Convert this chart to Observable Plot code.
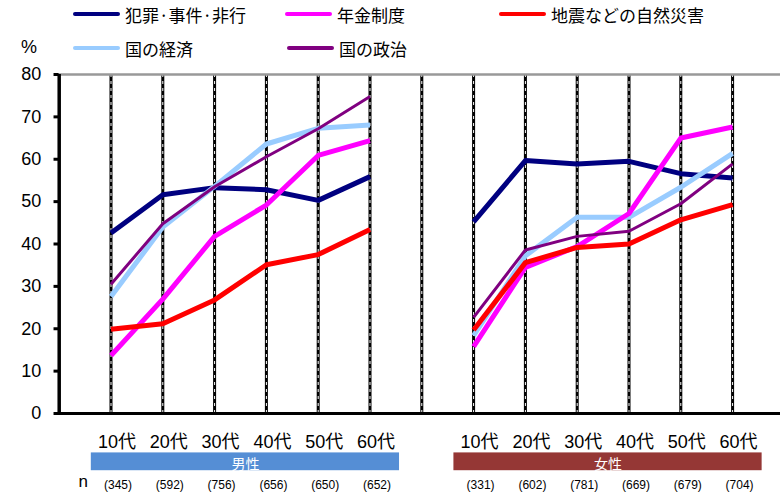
<!DOCTYPE html>
<html>
<head>
<meta charset="utf-8">
<script src="https://cdn.jsdelivr.net/npm/d3@7"></script>
<script src="https://cdn.jsdelivr.net/npm/@observablehq/plot@0.6"></script>
<style>
  html, body { margin: 0; padding: 0; background: #fff; }
  #wrap { position: relative; width: 780px; height: 494px; font-family: "Liberation Sans", Arial, "Noto Sans CJK JP", sans-serif; }
  .leg { position: absolute; display: flex; align-items: center; font-size: 17px; color: #000; white-space: nowrap; font-family: "Noto Sans CJK JP", "Liberation Sans", sans-serif; }
  .leg span.ln { display: inline-block; width: 47px; margin-right: 5px; border-radius: 2px; }
  #pct { position: absolute; left: 21px; top: 37px; font-size: 18px; font-family: "Liberation Sans", Arial, sans-serif; }
  svg { position: absolute; left: 0; top: 0; }
</style>
</head>
<body>
<div id="wrap"></div>
<script>
// ---- data ----
const categories = ["10代", "20代", "30代", "40代", "50代", "60代"];
const genders = ["男性", "女性"];
const nMale = [345, 592, 756, 656, 650, 652];
const nFemale = [331, 602, 781, 669, 679, 704];
const seriesNames = ["犯罪·事件·非行", "年金制度", "地震などの自然災害", "国の経済", "国の政治"];
const crimeMale = [42.6, 51.6, 53.3, 52.8, 50.3, 55.9];
const crimeFemale = [45.2, 59.7, 58.9, 59.5, 56.6, 55.6];
const pensionMale = [13.7, 27.0, 41.8, 49.2, 60.9, 64.4];
const pensionFemale = [15.8, 34.5, 39.4, 47.2, 65.0, 67.6];
const disasterMale = [19.9, 21.2, 26.8, 35.1, 37.5, 43.4];
const disasterFemale = [19.7, 35.6, 39.2, 40.0, 45.7, 49.3];
const economyMale = [27.6, 44.0, 53.6, 63.6, 67.3, 68.1];
const economyFemale = [18.4, 37.2, 46.3, 46.3, 53.4, 61.4];
const politicsMale = [30.5, 44.8, 53.5, 60.6, 67.2, 74.8];
const politicsFemale = [22.7, 38.6, 41.8, 43.0, 49.5, 58.9];
const yTicks = [0, 10, 20, 30, 40, 50, 60, 70, 80];

// ---- styles ----
const seriesColors = ["#000080", "#FF00FF", "#FF0000", "#99CCFF", "#800080"];
const seriesWidths = [5, 5, 5, 5, 3];
const legendLayout = [[73, 14], [285, 14], [499, 14], [73, 48], [287, 48]];
const drawOrder = [0, 3, 1, 2, 4];
const genderColors = ["#558ED5", "#953735"];

const seriesData = [
  [crimeMale, crimeFemale],
  [pensionMale, pensionFemale],
  [disasterMale, disasterFemale],
  [economyMale, economyFemale],
  [politicsMale, politicsFemale]
];

// slot positions: male 1..6, gap 7, female 8..13
const slotOf = (g, i) => g * (categories.length + 1) + i + 1;

const rows = [];
seriesData.forEach((pair, s) => {
  pair.forEach((vals, g) => {
    vals.forEach((v, i) => rows.push({series: s, gender: g, key: s + "-" + g, slot: slotOf(g, i), value: v}));
  });
});

const catRows = [];
genders.forEach((g, gi) => {
  const ns = gi === 0 ? nMale : nFemale;
  categories.forEach((c, i) => catRows.push({slot: slotOf(gi, i), label: c, n: "(" + ns[i] + ")"}));
});
const gapSlots = d3.range(1, 2 * (categories.length + 1));
const bands = genders.map((g, gi) => ({label: g, color: genderColors[gi], x1: slotOf(gi, 0) - 0.38, x2: slotOf(gi, categories.length - 1) + 0.57}));

const lineMarks = drawOrder.map(s => Plot.line(rows.filter(r => r.series === s), {
  x: "slot", y: "value", z: "key",
  stroke: seriesColors[s], strokeWidth: seriesWidths[s],
  strokeLinejoin: "round", strokeLinecap: "butt"
}));

const plot = Plot.plot({
  width: 780,
  height: 494,
  marginLeft: 59,
  marginRight: 0,
  marginTop: 74,
  marginBottom: 81,
  style: {fontFamily: "'Liberation Sans', Arial, 'Noto Sans CJK JP', sans-serif", background: "transparent"},
  x: {type: "linear", domain: [0, 14], range: [58.7, 783.9], axis: null},
  y: {domain: [0, 80], range: [413, 74], axis: null},
  marks: [
    Plot.ruleX(gapSlots, {y1: 0, y2: 80, stroke: "#000", strokeWidth: 3}),
    Plot.ruleX(gapSlots, {y1: 0, y2: 80, stroke: "#fff", strokeWidth: 1, strokeDasharray: "3,4"}),
    Plot.ruleY([80], {stroke: "#999", strokeWidth: 2.5}),
    Plot.ruleY([0], {x1: -0.08, x2: 14, stroke: "#000", strokeWidth: 3}),
    Plot.ruleX([0], {y1: 0, y2: 80, stroke: "#000", strokeWidth: 3.5}),
    Plot.ruleY(yTicks, {x1: -0.1, x2: 0, stroke: "#000", strokeWidth: 3}),
    Plot.text(yTicks, {x: 0, y: d => d, text: d => String(d), dx: -18, textAnchor: "end", fontSize: 18, fill: "#000"}),
    ...lineMarks,
    Plot.text(catRows, {x: "slot", y: 0, text: "label", dx: 6, dy: 29, fontSize: 18, fill: "#000", fontFamily: "'Liberation Sans', 'Noto Sans CJK JP', sans-serif"}),
    Plot.rect(bands, {x1: "x1", x2: "x2", y1: -9.3, y2: -13.5, fill: "color"}),
    Plot.text(bands, {x: d => (d.x1 + d.x2) / 2, y: 0, text: "label", dy: 51, fontSize: 14, fill: "#fff", fontFamily: "'Noto Sans CJK JP', sans-serif"}),
    Plot.text(catRows, {x: "slot", y: 0, text: "n", dx: 7, dy: 72, fontSize: 12, fill: "#000"}),
    Plot.text(["n"], {frameAnchor: "bottom-left", dx: 19, dy: 73, textAnchor: "start", fontSize: 17, fill: "#000"})
  ]
});

const wrap = document.getElementById("wrap");
wrap.appendChild(plot);

// legend (HTML overlay)
seriesNames.forEach((name, s) => {
  const d = document.createElement("div");
  d.className = "leg";
  d.style.left = legendLayout[s][0] + "px";
  d.style.top = (legendLayout[s][1] - 12) + "px";
  d.style.height = "24px";
  const ln = document.createElement("span");
  ln.className = "ln";
  ln.style.height = (s === 4 ? 3.5 : 4.5) + "px";
  ln.style.background = seriesColors[s];
  d.appendChild(ln);
  d.appendChild(document.createTextNode(name));
  wrap.appendChild(d);
});
const pct = document.createElement("div");
pct.id = "pct";
pct.textContent = "%";
wrap.appendChild(pct);
</script>
</body>
</html>
